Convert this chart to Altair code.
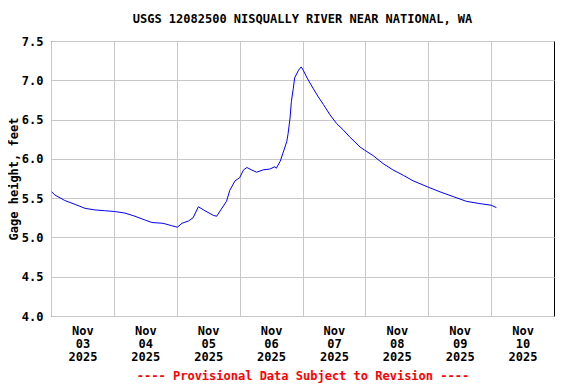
import altair as alt
import pandas as pd

times = [
    "2025-11-03T00:15", "2025-11-03T01:30", "2025-11-03T05:15", "2025-11-03T09:15",
    "2025-11-03T13:00", "2025-11-03T16:45", "2025-11-03T20:30", "2025-11-04T00:15",
    "2025-11-04T04:15", "2025-11-04T08:00", "2025-11-04T12:00", "2025-11-04T14:30",
    "2025-11-04T18:45", "2025-11-04T22:00", "2025-11-05T00:15", "2025-11-05T02:00",
    "2025-11-05T04:30", "2025-11-05T06:15", "2025-11-05T08:15", "2025-11-05T10:45",
    "2025-11-05T14:00", "2025-11-05T15:15", "2025-11-05T17:00", "2025-11-05T19:00",
    "2025-11-05T20:15", "2025-11-05T22:15", "2025-11-06T00:00", "2025-11-06T01:30",
    "2025-11-06T02:45", "2025-11-06T04:30", "2025-11-06T06:30", "2025-11-06T09:00",
    "2025-11-06T11:30", "2025-11-06T13:30", "2025-11-06T14:00", "2025-11-06T15:30",
    "2025-11-06T16:30", "2025-11-06T18:00", "2025-11-06T18:30", "2025-11-06T19:15",
    "2025-11-06T19:45", "2025-11-06T20:30", "2025-11-06T21:00", "2025-11-06T22:30",
    "2025-11-06T23:30", "2025-11-07T00:15", "2025-11-07T01:45", "2025-11-07T04:00",
    "2025-11-07T06:00", "2025-11-07T08:00", "2025-11-07T10:30", "2025-11-07T13:00",
    "2025-11-07T15:30", "2025-11-07T18:00", "2025-11-07T22:00", "2025-11-07T23:45",
    "2025-11-08T03:00", "2025-11-08T06:45", "2025-11-08T10:30", "2025-11-08T14:30",
    "2025-11-08T18:15", "2025-11-09T00:00", "2025-11-09T04:30", "2025-11-09T09:30",
    "2025-11-09T14:30", "2025-11-09T19:45", "2025-11-10T00:00", "2025-11-10T02:00",
]
gage_ft = [
    5.58, 5.54, 5.47, 5.42,
    5.37, 5.35, 5.34, 5.33,
    5.31, 5.27, 5.22, 5.19,
    5.18, 5.15, 5.13, 5.18,
    5.21, 5.25, 5.39, 5.34,
    5.28, 5.27, 5.36, 5.46,
    5.60, 5.72, 5.76, 5.86,
    5.89, 5.86, 5.83, 5.86,
    5.87, 5.90, 5.88, 5.97,
    6.07, 6.22, 6.32, 6.52,
    6.73, 6.90, 7.03, 7.13,
    7.17, 7.13, 7.03, 6.90,
    6.79, 6.69, 6.56, 6.45,
    6.37, 6.28, 6.15, 6.11,
    6.04, 5.94, 5.86, 5.79,
    5.72, 5.64, 5.58, 5.52,
    5.46, 5.43, 5.41, 5.38,
]
y_ticks = [4.0, 4.5, 5.0, 5.5, 6.0, 6.5, 7.0, 7.5]
day_ticks = [3, 4, 5, 6, 7, 8, 9, 10]

df = pd.DataFrame({"time": [t + ":00Z" for t in times], "gage": gage_ft})

FONT = "DejaVu Sans Mono"
W, H = 503, 275

x_values = [alt.DateTime(year=2025, month=11, date=d, hours=0, utc=True) for d in day_ticks]
x_domain = [alt.DateTime(year=2025, month=11, date=3, utc=True),
            alt.DateTime(year=2025, month=11, date=11, utc=True)]

chart = alt.Chart(df).mark_line(color="#0000FF", strokeWidth=1).encode(
    x=alt.X("time:T",
            scale=alt.Scale(type="utc", domain=x_domain),
            axis=alt.Axis(
                values=x_values,
                labelExpr="[utcFormat(datum.value, '%b'), utcFormat(datum.value, '%d'), utcFormat(datum.value, '%Y')]",
                labelOffset=W / 16,
                labelLineHeight=13,
                labelBaseline="top",
                labelPadding=9,
                labelOverlap=False,
                labelBound=False,
                labelFlush=False,
                ticks=False,
                domain=False,
                title="---- Provisional Data Subject to Revision ----",
                titleColor="#FF0000",
                titlePadding=8,
            )),
    y=alt.Y("gage:Q",
            scale=alt.Scale(domain=[4.0, 7.5], nice=False, zero=False),
            axis=alt.Axis(values=y_ticks, format=".1f", ticks=False, domain=False,
                          labelPadding=8, title="Gage height, feet", titlePadding=1)),
).properties(
    width=W, height=H,
    title=alt.TitleParams("USGS 12082500 NISQUALLY RIVER NEAR NATIONAL, WA",
                          anchor="middle", frame="group", offset=9,
                          font=FONT, fontSize=12, fontWeight="bold", color="#000000"),
    padding={"left": 43, "top": 33, "right": 14, "bottom": 68},
    autosize=alt.AutoSizeParams(type="none"),
).configure_axis(
    labelFont=FONT, labelFontSize=12, labelFontWeight="bold", labelColor="#000000",
    titleFont=FONT, titleFontSize=12, titleFontWeight="bold", titleColor="#000000",
    gridColor="#C8C8C8", gridWidth=1, gridOpacity=1,
).configure_view(stroke="#000000", strokeWidth=1)

chart.save("out.html", embed_options={"renderer": "svg", "actions": False})
